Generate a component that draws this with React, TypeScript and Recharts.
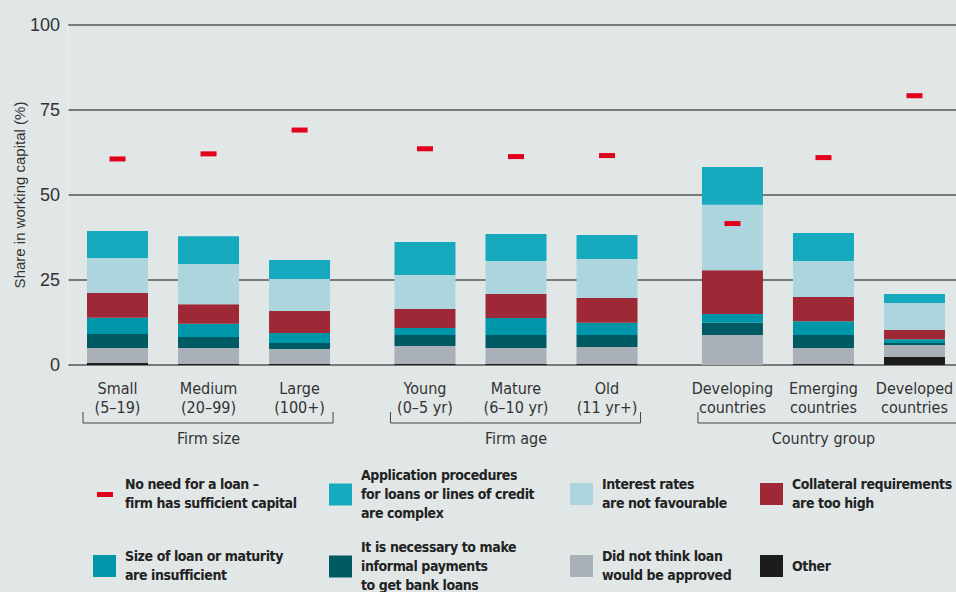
import React from 'react'
import { ComposedChart, Bar, Scatter, XAxis, YAxis, CartesianGrid } from 'recharts'

// category labels (two lines each) and the group they belong to
const labelTop = ['Small', 'Medium', 'Large', 'Young', 'Mature', 'Old', 'Developing', 'Emerging', 'Developed']
const labelBottom = ['(5–19)', '(20–99)', '(100+)', '(0–5 yr)', '(6–10 yr)', '(11 yr+)', 'countries', 'countries', 'countries']
const groupNames = ['Firm size', 'Firm age', 'Country group']
const groupOf = [0, 0, 0, 1, 1, 1, 2, 2, 2]

// share in working capital (%), stacked bottom to top
const other = [0.6, 0.3, 0.3, 0.3, 0.3, 0.3, 0, 0.3, 2.4]
const notApproved = [4.4, 4.7, 4.4, 5.3, 4.7, 5.0, 8.8, 4.7, 3.5]
const informal = [4.1, 3.2, 1.8, 3.2, 3.8, 3.5, 3.6, 3.8, 0.6]
const loanSize = [4.8, 3.9, 2.9, 2.1, 5.0, 3.6, 2.6, 4.1, 1.1]
const collateral = [7.3, 5.8, 6.5, 5.6, 7.1, 7.3, 12.9, 7.1, 2.7]
const interest = [10.3, 11.8, 9.4, 10.0, 9.7, 11.5, 19.2, 10.6, 7.9]
const application = [7.9, 8.2, 5.6, 9.7, 7.9, 7.0, 11.1, 8.2, 2.7]
// no need for a loan (red dash)
const noNeed = [60.6, 62.1, 69.1, 63.6, 61.3, 61.6, 41.6, 61.0, 79.2]

const yTicks = [0, 25, 50, 75, 100]

const COLORS = {
  noNeed: '#e3001b',
  application: '#17aabe',
  interest: '#acd5de',
  collateral: '#9e2835',
  loanSize: '#0096aa',
  informal: '#005a64',
  notApproved: '#a9b0b8',
  other: '#1c1c1c',
}

const GROUP_STEP = 3.378 // extra spacing between groups on the x scale

const data = labelTop.map((name, i) => {
  const inGroup = groupOf.slice(0, i).filter((g) => g === groupOf[i]).length
  return {
    name,
    pos: groupOf[i] * GROUP_STEP + inGroup,
    other: other[i],
    notApproved: notApproved[i],
    informal: informal[i],
    loanSize: loanSize[i],
    collateral: collateral[i],
    interest: interest[i],
    application: application[i],
    noNeed: noNeed[i],
  }
})
const positions = data.map((d) => d.pos)

const legendItems = [
  { key: 'noNeed', lines: ['No need for a loan –', 'firm has sufficient capital'], dash: true },
  { key: 'application', lines: ['Application procedures', 'for loans or lines of credit', 'are complex'] },
  { key: 'interest', lines: ['Interest rates', 'are not favourable'] },
  { key: 'collateral', lines: ['Collateral requirements', 'are too high'] },
  { key: 'loanSize', lines: ['Size of loan or maturity', 'are insufficient'] },
  { key: 'informal', lines: ['It is necessary to make', 'informal payments', 'to get bank loans'] },
  { key: 'notApproved', lines: ['Did not think loan', 'would be approved'] },
  { key: 'other', lines: ['Other'] },
]

const condensed = '"Liberation Sans Narrow", "DejaVu Sans Condensed", "Arial Narrow", sans-serif'
const plain = '"Liberation Sans", Arial, sans-serif'

const CategoryTick = (props: any) => {
  const { x, y, payload } = props
  const i = positions.findIndex((p) => Math.abs(p - payload.value) < 0.01)
  if (i < 0) return null
  const g = groupOf[i]
  const first = i === 0 || groupOf[i - 1] !== g
  const last = i === groupOf.length - 1 || groupOf[i + 1] !== g
  const middle = !first && !last
  const isFinal = i === groupOf.length - 1
  const bx1 = first ? x - 34.5 : x - 45.5
  const bx2 = last ? (isFinal ? x + 60 : x + 33.5) : x + 45.5
  const by = y + 58
  return (
    <g fontFamily={condensed} fontSize={16} fill="#333">
      <text x={x} y={y + 29} textAnchor="middle">{labelTop[i]}</text>
      <text x={x} y={y + 48} textAnchor="middle">{labelBottom[i]}</text>
      <line x1={bx1} x2={bx2} y1={by} y2={by} stroke="#444" strokeWidth={1} />
      {first && <line x1={bx1} x2={bx1} y1={by - 11} y2={by} stroke="#444" strokeWidth={1} />}
      {last && !isFinal && <line x1={bx2} x2={bx2} y1={by - 11} y2={by} stroke="#444" strokeWidth={1} />}
      {middle && (
        <text x={x} y={y + 79} textAnchor="middle">{groupNames[g]}</text>
      )}
    </g>
  )
}

const renderDash = (props: any) => {
  const { cx, cy } = props
  return <rect x={cx - 8} y={cy - 2.5} width={16} height={5} fill={COLORS.noNeed} />
}

export default function App() {
  return (
    <div
      style={{
        position: 'absolute',
        left: 0,
        top: 0,
        width: 956,
        height: 592,
        background: '#e1e6e7',
        overflow: 'hidden',
      }}
    >
      <ComposedChart width={956} height={592} data={data} margin={{ top: 25, right: 0, bottom: 137, left: 0 }}>
        <CartesianGrid vertical={false} stroke="#555" strokeWidth={1.5} />
        <XAxis
          type="number"
          dataKey="pos"
          domain={[-0.544, 9.212]}
          allowDataOverflow
          ticks={positions}
          interval={0}
          tick={<CategoryTick />}
          tickLine={false}
          axisLine={false}
          tickSize={0}
          tickMargin={0}
          height={90}
        />
        <YAxis
          domain={[0, 100]}
          ticks={yTicks}
          width={68}
          tickLine={false}
          axisLine={{ stroke: '#eef1f2' }}
          tick={{ fontFamily: plain, fontSize: 18, fill: '#333' }}
          tickSize={6}
          tickMargin={2}
          label={{
            content: () => (
              <text
                transform="translate(25,195) rotate(-90)"
                textAnchor="middle"
                fontFamily={plain}
                fontSize={15}
                fill="#333"
              >
                Share in working capital (%)
              </text>
            ),
          }}
        />
        <Bar dataKey="other" stackId="a" fill={COLORS.other} barSize={61} isAnimationActive={false} />
        <Bar dataKey="notApproved" stackId="a" fill={COLORS.notApproved} barSize={61} isAnimationActive={false} />
        <Bar dataKey="informal" stackId="a" fill={COLORS.informal} barSize={61} isAnimationActive={false} />
        <Bar dataKey="loanSize" stackId="a" fill={COLORS.loanSize} barSize={61} isAnimationActive={false} />
        <Bar dataKey="collateral" stackId="a" fill={COLORS.collateral} barSize={61} isAnimationActive={false} />
        <Bar dataKey="interest" stackId="a" fill={COLORS.interest} barSize={61} isAnimationActive={false} />
        <Bar dataKey="application" stackId="a" fill={COLORS.application} barSize={61} isAnimationActive={false} />
        <Scatter dataKey="noNeed" shape={renderDash} isAnimationActive={false} />
      </ComposedChart>

      {legendItems.map((item, k) => {
        const left = [93, 329, 570, 760][k % 4]
        const top = [494, 566][Math.floor(k / 4)]
        const color = (COLORS as any)[item.key]
        return (
          <div
            key={item.key}
            style={{
              position: 'absolute',
              left,
              top,
              transform: 'translateY(-50%)',
              display: 'flex',
              alignItems: 'center',
              fontFamily: condensed,
              fontWeight: 700,
              fontSize: 14,
              letterSpacing: -0.4,
              lineHeight: '19px',
              color: '#222',
              whiteSpace: 'nowrap',
            }}
          >
            <div
              style={{
                width: 23,
                height: 22,
                background: item.dash ? 'transparent' : color,
                display: 'flex',
                alignItems: 'center',
                justifyContent: 'center',
                marginRight: 9,
                flexShrink: 0,
              }}
            >
              {item.dash && <div style={{ width: 16, height: 5, background: color }} />}
            </div>
            <div>
              {item.lines.map((l, j) => (
                <div key={j}>{l}</div>
              ))}
            </div>
          </div>
        )
      })}
    </div>
  )
}
